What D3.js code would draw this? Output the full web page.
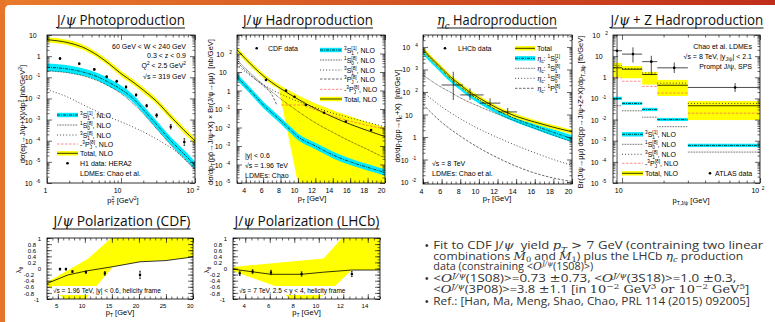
<!DOCTYPE html>
<html>
<head>
<meta charset="utf-8">
<script src="https://cdn.jsdelivr.net/npm/d3@7"></script>
<style>
  body { margin: 0; background: #fff; }
  svg { display: block; }
</style>
</head>
<body>
<svg id="chart" width="775" height="322"></svg>
<script>
// ---------------- data ----------------
// J/psi photoproduction, rows [pT^2, central, low, high]
const photoTot = [[1,6,4.6,7.8],[2,4.2,3.2,5.6],[3,2.7,2.0,3.6],[5,1.0,0.76,1.35],[7,0.42,0.32,0.57],[10,0.15,0.11,0.2],
  [15,0.055,0.041,0.075],[20,0.025,0.018,0.034],[30,0.0075,0.0055,0.0102],[50,0.0011,0.0008,0.0015],[70,3.3e-4,2.4e-4,4.5e-4],[100,1e-4,7e-5,1.4e-4]];
const photoCS = [[1,0.3,0.2,0.45],[2,0.24,0.16,0.36],[3,0.18,0.12,0.27],[5,0.1,0.066,0.15],[7,0.055,0.036,0.083],[10,0.027,0.018,0.041],
  [15,0.009,0.0059,0.0135],[20,0.003,0.002,0.0045],[30,6e-4,3.9e-4,9e-4],[50,8e-5,5.2e-5,1.2e-4],[70,2.5e-5,1.6e-5,3.8e-5],[100,7e-6,4.5e-6,1.05e-5]];
const photo1S0 = [[1,0.2],[2,0.16],[3,0.12],[5,0.065],[10,0.017],[20,0.0019],[30,3.8e-4],[50,5e-5],[100,4.5e-6]];
const photo3S1 = [[1,0.026],[1.86,0.012],[3.5,0.004],[7,0.0013],[14.5,4.5e-4],[33,1e-4],[60,2.5e-5],[100,4e-6]];
const photoH1 = [[1.5,0.77,0.7,0.85],[2.73,0.44,0.4,0.48],[4.36,0.236,0.215,0.26],[6.4,0.106,0.096,0.117],[8.75,0.065,0.059,0.072],
  [11.7,0.035,0.031,0.039],[16,0.0146,0.013,0.0164],[22.2,0.0045,0.0039,0.0052],[30.3,0.0016,0.0013,0.0019],[47,4.6e-4,3.6e-4,5.8e-4],[71.7,8.7e-5,6e-5,1.25e-4]];

// J/psi hadroproduction (CDF)
const hadroTot = [[3,160],[4,50],[5,17],[6,6.3],[7,2.7],[8,1.3],[9,0.65],[10,0.34],[12,0.105],[14,0.037],[16,0.015],[18,0.0068],[20,0.0032]];
const hadroTotHi = [[3,220],[4,68],[5,23],[6,8.6],[7,3.7],[8,1.85],[9,1.0],[10,0.55],[12,0.2],[14,0.085],[16,0.04],[18,0.019],[20,0.01]];
const hadroTotLo = [[3,115],[4,36],[5,12.5],[6,4.6],[7,2.0],[7.8,1.2],[10,1e-5],[20,1e-5]];
const hadroCS = [[3,5.5,3.7,8.2],[4,1.75,1.17,2.6],[5,0.56,0.37,0.84],[6,0.17,0.113,0.255],[7,0.063,0.042,0.095],[8,0.024,0.016,0.036],
  [9,0.0085,0.0057,0.0128],[10,0.0032,0.0021,0.0048],[12,0.001,6.7e-4,0.0015],[14,3.3e-4,2.2e-4,5e-4],[16,1.4e-4,9.3e-5,2.1e-4],[18,7e-5,4.7e-5,1.05e-4],[20,3.7e-5,2.5e-5,5.5e-5]];
const hadro1S0 = [[3,45],[4,15],[5,5.5],[6,2.1],[7,0.85],[8,0.36],[10,0.075],[12,0.018],[14,0.0055],[16,0.0018],[18,6.5e-4],[20,2.2e-4]];
const hadro3S1 = [[3,25],[4,10],[5,4.3],[6,2.1],[8,0.65],[10,0.26],[12,0.12],[14,0.06],[16,0.033],[18,0.019],[20,0.011]];
const hadro3PJ = [[3,35],[4,12],[5,4.5],[6,1.8],[7,0.6],[7.6,0.15]];
const hadro3PJneg = [[8.1,0.165],[10.7,0.165],[12,0.09],[14,0.042],[16,0.022],[18,0.013],[20,0.0085]];
const hadroCDF = [[6.33,3.7],[8.63,0.98],[9.6,0.46],[10.9,0.165],[13,0.063],[15.5,0.021],[18.4,0.0073]];

// eta_c hadroproduction (LHCb), rows [pT, central, low, high]
const etaTot = [[4,7900,6300,9900],[5,2900,2300,3600],[6,1150,920,1440],[7,450,360,560],[8,210,168,262],[9,100,80,125],[10,55,44,69],
  [12,19,15.2,23.8],[14,8.3,6.6,10.4],[16,4.6,3.7,5.75],[18,2.7,2.15,3.4],[20,1.7,1.36,2.1]];
const etaCS = [[4,6800,4800,9500],[5,2450,1700,3400],[6,960,670,1340],[7,380,265,530],[8,175,122,245],[9,84,59,118],[10,45,31,63],
  [12,15,10.5,21],[14,6.3,4.4,8.8],[16,3.1,2.2,4.3],[18,1.6,1.1,2.2],[20,0.85,0.6,1.2]];
const eta3S1 = [[4,570],[5,290],[6,160],[7,95],[8,55],[10,23],[12,10.5],[14,5],[16,2.4],[18,1.2],[20,0.6]];
const eta1S0 = [[4,100],[6,22],[8,6.5],[10,2.3],[12,0.95],[14,0.42],[16,0.2],[18,0.1],[20,0.055]];
const eta1P1 = [[4,28],[6,4.5],[8,1.1],[10,0.33],[12,0.12],[14,0.05],[16,0.025],[18,0.015],[20,0.0105]];
// [pT, value, pT low, pT high, value low, value high]
const etaLHCb = [[7.25,204,6.0,8.3,44,790],[9.05,74,8.0,10.5,44,145],[11.2,32,10.1,12.3,22,52],[13.1,13,12.1,14.1,9.5,19.5]];

// J/psi + Z (ATLAS), histogram bins
const zEdges = [8.5, 10, 14, 18, 30, 100];
const zTot   = [2.8, 2.4, 1.35, 0.42, 0.045];
const zTotLo = [1.0, 0.9, 0.45, 0.13, 0.0095];
const zTotHi = [4.8, 3.4, 1.8, 0.75, 0.075];
const zCS    = [0.1, 0.058, 0.03, 0.01, 6e-4];
const zCSLo  = [0.085, 0.049, 0.025, 0.0085, 5e-4];
const zCSHi  = [0.12, 0.069, 0.036, 0.012, 7.2e-4];
const z1S0   = [0.045, 0.026, 0.013, 0.0046, 2.9e-4];
const z3S1   = [3.5, 2.6, 1.6, 0.53, 0.058];
const z3PJ   = [0.93, 0.65, 0.37, 0.18, 0.02];
// [pT, value, pT low, pT high, value low, value high]
const zATLAS = [[9.2,18,8.8,10,1e-6,150],[12,12.5,10,14,5,26],[16.3,5.5,14,18,1.3,10.4],[23.9,2.8,18,30,1.6,5],[66,0.33,30,100,0.2,0.53]];

// polarization lambda_theta
const polCDFBand = [[3,-0.45],[10.5,0.31],[14.9,1],[30,1],[30,0.38],[25,0.27],[20.2,0.22],[15.2,0.06],[10.1,-1],[6.3,-1],[3,-0.56]];
const polCDFLine = [[3,-0.49],[6.9,-0.21],[10.3,-0.08],[15.2,0.06],[20.2,0.22],[25,0.26],[30,0.38]];
const polCDFData = [[5.4,-0.02,0.03],[6.5,-0.02,0.03],[7.7,-0.1,0.03],[10.2,-0.12,0.04],[13.7,-0.16,0.06],[20.2,-0.21,0.12]];
const polLHCbBand = [[3,0.05],[10.4,0.33],[11.9,1],[15,1],[15,-0.05],[12.7,-0.05],[10.8,-0.78],[9.8,-1],[7.6,-1],[6.6,-0.6],[3,-0.08]];
const polLHCbLine = [[3,-0.02],[4.8,-0.12],[6.1,-0.19],[8.6,-0.19],[10.4,-0.12],[12.7,-0.05],[15,-0.05]];
const polLHCbData = [[3.55,-0.16,0.07],[4.6,-0.1,0.06],[6.1,-0.13,0.07],[8.6,-0.18,0.07],[12.7,-0.18,0.08]];

// ---------------- setup ----------------
const W = 775, H = 322;
const YEL = '#ffff00', CYA = '#00eaff';
const SANS = '"Liberation Sans", Arial, sans-serif';
const SERIF = '"DejaVu Serif", "Liberation Serif", serif';
const TITLE = '"Open Sans", sans-serif';
const ST = {
  tot:    {c: '#000', w: 0.8, d: null},
  cs:     {c: '#000', w: 0.7, d: '3,1,1,1'},
  fine:   {c: '#000', w: 0.7, d: '0.8,0.8'},
  sparse: {c: '#000', w: 0.8, d: '0.9,2.2'},
  dash:   {c: '#000', w: 0.6, d: '2.5,1.5'},
  red:    {c: '#ff5a5a', w: 0.7, d: '2.5,1.5'}
};

const svg = d3.select('#chart');
const defs = svg.append('defs');
const grad = defs.append('linearGradient').attr('id', 'bar').attr('x1', 0).attr('x2', 1);
grad.append('stop').attr('offset', 0).attr('stop-color', '#e97a2b');
grad.append('stop').attr('offset', 1).attr('stop-color', '#bf2e1b');
svg.append('rect').attr('width', W).attr('height', H).attr('fill', 'url(#bar)');
svg.append('rect').attr('width', 5).attr('height', H).attr('fill', '#e6742b');
svg.append('path').attr('d', `M5,${H}V10Q5,5 10,5H${W}V${H}Z`).attr('fill', '#fff');

// text built from tokens: 'str', {t, i, f}, {sup, sub, i, f}
function rich(parent, x, y, toks, o = {}) {
  const size = o.size || 7;
  const g = parent.append('g');
  let cx = 0;
  const put = (s, dx, dy, fs, k) => {
    const e = g.append('text').attr('x', dx).attr('y', dy).attr('font-size', fs)
      .style('font-family', k.f || o.family || SANS).attr('fill', o.fill || '#000')
      .text(String(s).replace(/ /g, '\u00a0'));
    if (k.i) e.style('font-style', 'italic');
    return e.node().getComputedTextLength();
  };
  toks.forEach(k => {
    if (typeof k === 'string') k = {t: k};
    if (k.t != null) cx += put(k.t, cx, 0, size, k);
    else {
      let w = 0;
      if (k.sup != null) w = Math.max(w, put(k.sup, cx, -size * (o.supUp || 0.42), size * 0.68, k));
      if (k.sub != null) w = Math.max(w, put(k.sub, cx, size * (o.subDown || 0.3), size * 0.68, k));
      cx += w;
    }
  });
  const sx = o.width ? o.width / cx : 1;
  const wd = cx * sx;
  if (o.underline) g.append('line').attr('x1', 0).attr('x2', cx).attr('y1', 3).attr('y2', 3)
    .attr('stroke', o.fill || '#000').attr('stroke-width', 1);
  if (o.rotate) {
    g.attr('transform', `translate(${x},${y}) rotate(-90) translate(${-wd / 2},0) scale(${sx},1)`);
  } else {
    const left = o.anchor === 'end' ? x - wd : o.anchor === 'middle' ? x - wd / 2 : x;
    g.attr('transform', `translate(${left},${y}) scale(${sx},1)`);
  }
  return g;
}

let clipN = 0;
function panel(box, xs, ys) {
  const g = svg.append('g');
  const x = xs.range([box[0], box[1]]), y = ys.range([box[3], box[2]]);
  const id = 'clip' + (++clipN);
  defs.append('clipPath').attr('id', id).append('rect')
    .attr('x', box[0]).attr('y', box[2]).attr('width', box[1] - box[0]).attr('height', box[3] - box[2]);
  const plot = g.append('g').attr('clip-path', `url(#${id})`);
  return {g, plot, x, y};
}

function logTicks(lo, hi) {
  const major = [], minor = [];
  for (let e = Math.floor(Math.log10(lo)); e <= Math.ceil(Math.log10(hi)); e++) {
    const b = Math.pow(10, e);
    if (b >= lo * 0.999 && b <= hi * 1.001) major.push(b);
    for (let k = 2; k < 10; k++) if (k * b >= lo && k * b <= hi) minor.push(k * b);
  }
  return {major, minor};
}
const linTicks = (lo, hi, first, step, mstep) => ({major: d3.range(first, hi + 1e-9, step), minor: d3.range(lo, hi + 1e-9, mstep)});
const logLab = d => {
  const e = Math.round(Math.log10(d));
  return e === 0 ? ['1'] : e === 1 ? ['10'] : ['10', {sup: String(e)}];
};

function axes(p, xt, yt, xl, yl, o = {}) {
  const {g, x, y} = p;
  const [x0, x1] = x.range(), [yb, ytop] = y.range();
  const fs = o.size || 7;
  const draw = (axis, tr, vals, len) => {
    const a = g.append('g').attr('transform', tr).call(axis.tickValues(vals).tickSize(-len).tickFormat(() => ''));
    a.select('.domain').remove();
    a.selectAll('.tick text').remove();
    a.selectAll('.tick line').attr('stroke', '#000').attr('stroke-width', 0.6);
    return a;
  };
  draw(d3.axisBottom(x), `translate(0,${yb})`, xt.minor, 2.5);
  draw(d3.axisTop(x), `translate(0,${ytop})`, xt.minor, 2.5);
  draw(d3.axisTop(x), `translate(0,${ytop})`, xt.major, 5);
  const bx = draw(d3.axisBottom(x), `translate(0,${yb})`, xt.major, 5);
  draw(d3.axisLeft(y), `translate(${x0},0)`, yt.minor, 2.5);
  draw(d3.axisRight(y), `translate(${x1},0)`, yt.minor, 2.5);
  draw(d3.axisRight(y), `translate(${x1},0)`, yt.major, 5);
  const ly = draw(d3.axisLeft(y), `translate(${x0},0)`, yt.major, 5);
  bx.selectAll('.tick').each(function (d) {
    const t = xl(d); if (t) rich(d3.select(this), 0, fs + 2.5, t, {size: fs, anchor: 'middle'});
  });
  ly.selectAll('.tick').each(function (d) {
    const t = yl(d); if (t) rich(d3.select(this), -2.5, fs * 0.36, t, {size: fs, anchor: 'end'});
  });
  g.append('rect').attr('x', x0).attr('y', ytop).attr('width', x1 - x0).attr('height', yb - ytop)
    .attr('fill', 'none').attr('stroke', '#000').attr('stroke-width', 0.8);
}

function curve(p, data, st, cv = d3.curveMonotoneX) {
  p.plot.append('path').attr('d', d3.line().x(d => p.x(d[0])).y(d => p.y(d[1])).curve(cv)(data))
    .attr('fill', 'none').attr('stroke', st.c).attr('stroke-width', st.w).attr('stroke-dasharray', st.d);
}
function band(p, data, fill) {
  p.plot.append('path').attr('d', d3.area().x(d => p.x(d[0])).y0(d => p.y(d[2])).y1(d => p.y(d[3])).curve(d3.curveMonotoneX)(data))
    .attr('fill', fill);
}
function polygon(p, pts, fill) {
  p.plot.append('path').attr('d', d3.line().x(d => p.x(d[0])).y(d => p.y(d[1]))(pts) + 'Z').attr('fill', fill);
}
function ebar(p, x, ylo, yhi, cap) {
  p.plot.append('line').attr('x1', p.x(x)).attr('x2', p.x(x)).attr('y1', p.y(ylo)).attr('y2', p.y(yhi))
    .attr('stroke', '#000').attr('stroke-width', 0.7);
  if (cap) [ylo, yhi].forEach(v => p.plot.append('line').attr('x1', p.x(x) - cap).attr('x2', p.x(x) + cap)
    .attr('y1', p.y(v)).attr('y2', p.y(v)).attr('stroke', '#000').attr('stroke-width', 0.7));
}
function dot(g, cx, cy, r = 1.3) { g.append('circle').attr('cx', cx).attr('cy', cy).attr('r', r).attr('fill', '#000'); }

// legend: rows [type, tokens, y]
function legend(g, x0, x1, rows) {
  rows.forEach(([type, toks, yc]) => {
    if (type === 'yellow' || type === 'cyan') {
      g.append('rect').attr('x', x0).attr('y', yc - 2.2).attr('width', x1 - x0).attr('height', 4.4).attr('fill', type === 'yellow' ? YEL : CYA);
      const s = type === 'yellow' ? ST.tot : ST.cs;
      g.append('line').attr('x1', x0).attr('x2', x1).attr('y1', yc).attr('y2', yc).attr('stroke', s.c).attr('stroke-width', s.w).attr('stroke-dasharray', s.d);
    } else if (type === 'dot') {
      dot(g, (x0 + x1) / 2, yc);
    } else if (ST[type]) {
      const s = ST[type];
      g.append('line').attr('x1', x0).attr('x2', x1).attr('y1', yc).attr('y2', yc).attr('stroke', s.c).attr('stroke-width', s.w).attr('stroke-dasharray', s.d);
    }
    rich(g, x1 + 2, yc + 2.5, toks, {size: 7});
  });
}
const S = (pre, l, sub, sup, post) => [pre, {sup: l}, 'S', {sub, sup}, post];
const P = (pre, l, sub, sup, post) => [pre, {sup: l}, 'P', {sub, sup}, post];
const psi = {t: 'ψ', i: true, f: SERIF};

function title(x, y, w, toks) { rich(svg, x, y, toks, {size: 14, family: TITLE, anchor: 'middle', width: w, underline: true, fill: '#111'}); }

// ---------------- titles ----------------
title(121, 25, 128, ['J/', psi, ' Photoproduction']);
title(308, 25, 130, ['J/', psi, ' Hadroproduction']);
title(497, 25, 120, [{t: 'η', i: true, f: SERIF}, {sub: 'c', i: true, f: SERIF}, ' Hadroproduction']);
title(687, 25, 153, ['J/', psi, ' + Z Hadroproduction']);
title(122, 226, 137, ['J/', psi, ' Polarization (CDF)']);
title(307, 226, 145, ['J/', psi, ' Polarization (LHCb)']);

// ---------------- panel 1: photoproduction ----------------
{
  const p = panel([47, 195, 35, 183], d3.scaleLog().domain([1, 100]), d3.scaleLog().domain([1e-6, 10]));
  band(p, photoTot, YEL);
  band(p, photoCS, CYA);
  curve(p, photoTot, ST.tot);
  curve(p, photoCS, ST.cs);
  curve(p, photo1S0, ST.fine);
  curve(p, photo3S1, ST.sparse);
  photoH1.forEach(d => { ebar(p, d[0], d[2], d[3], 0.8); dot(p.plot, p.x(d[0]), p.y(d[1])); });
  axes(p, logTicks(1, 100), logTicks(1e-6, 10), logLab, logLab);
  const g = p.g;
  rich(g, 186, 49, ['60 GeV < W < 240 GeV'], {anchor: 'end'});
  rich(g, 186, 58, ['0.3 < z < 0.9'], {anchor: 'end'});
  rich(g, 186, 68, ['Q', {sup: '2'}, ' < 2.5 GeV', {sup: '2'}], {anchor: 'end'});
  rich(g, 186, 78.5, ['√s = 319 GeV'], {anchor: 'end'});
  legend(g, 57, 78, [
    ['cyan', S('', '3', '1', '[1]', ', NLO'), 115],
    ['fine', S('', '1', '0', '[8]', ', NLO'), 125],
    ['sparse', S('', '3', '1', '[8]', ', NLO'), 135],
    ['red', P('-', '3', 'J', '[8]', ', NLO'), 144],
    ['yellow', ['Total, NLO'], 153.3],
    ['dot', ['H1 data: HERA2'], 163.3],
    ['none', ['LDMEs: Chao et al.'], 173.3]
  ]);
  rich(g, 25, 114, ['dσ(ep→J/ψ+X)/dp', {sub: 'T', sup: '2'}, ' [nb/GeV', {sup: '2'}, ']'], {rotate: true, size: 7.5});
  rich(g, 123, 203, ['p', {sub: 'T', sup: '2'}, ' [GeV', {sup: '2'}, ']'], {anchor: 'middle', size: 7.5});
}

// ---------------- panel 2: J/psi hadroproduction ----------------
{
  const p = panel([237, 385, 35, 183], d3.scaleLinear().domain([3, 20]), d3.scaleLog().domain([1e-5, 1e3]));
  polygon(p, hadroTotHi.concat(hadroTotLo.slice().reverse()), YEL);
  band(p, hadroCS, CYA);
  curve(p, hadroTot, ST.tot);
  curve(p, hadroCS, ST.cs);
  curve(p, hadro1S0, ST.fine);
  curve(p, hadro3S1, ST.sparse);
  curve(p, hadro3PJ, ST.dash);
  curve(p, hadro3PJneg, ST.red, d3.curveLinear);
  hadroCDF.forEach(d => dot(p.plot, p.x(d[0]), p.y(d[1])));
  axes(p, linTicks(3, 20, 4, 2, 0.5), logTicks(1e-5, 1e3), d => [String(d)], d => d < 999 ? logLab(d) : null);
  const g = p.g;
  dot(g, 256.7, 48.3);
  rich(g, 268, 51, ['CDF data']);
  legend(g, 320, 342, [
    ['cyan', S('', '3', '1', '[1]', ', NLO'), 50],
    ['fine', S('', '1', '0', '[8]', ', NLO'), 60],
    ['sparse', S('', '3', '1', '[8]', ', NLO'), 70],
    ['dash', P('', '3', 'J', '[8]', ', NLO'), 79],
    ['red', P('-', '3', 'J', '[8]', ', NLO'), 89.3],
    ['yellow', ['Total, NLO'], 99]
  ]);
  rich(g, 245, 157.5, ['|y| < 0.6']);
  rich(g, 245, 167.5, ['√s = 1.96 TeV']);
  rich(g, 245, 177.5, ['LDMEs: Chao']);
  rich(g, 213, 112, ['dσ/dp', {sub: 'T'}, '(pp\u0304→J/ψ+X) × Br(J/ψ→μμ)  [nb/GeV]'], {rotate: true, size: 7.5});
  rich(g, 312, 201, ['p', {sub: 'T'}, ' [GeV]'], {anchor: 'middle', size: 7.5});
}

// ---------------- panel 3: eta_c hadroproduction ----------------
{
  const p = panel([423, 572, 35, 184], d3.scaleLinear().domain([4, 20]), d3.scaleLog().domain([0.00815, 34000]));
  band(p, etaCS, CYA);
  band(p, etaTot, YEL);
  curve(p, etaTot, ST.tot);
  curve(p, etaCS, ST.cs);
  curve(p, eta3S1, ST.fine);
  curve(p, eta1S0, ST.sparse);
  curve(p, eta1P1, ST.dash);
  etaLHCb.forEach(d => {
    ebar(p, d[0], d[4], d[5]);
    p.plot.append('line').attr('x1', p.x(d[2])).attr('x2', p.x(d[3])).attr('y1', p.y(d[1])).attr('y2', p.y(d[1]))
      .attr('stroke', '#000').attr('stroke-width', 0.7);
  });
  axes(p, linTicks(4, 20, 4, 2, 0.5), logTicks(0.00815, 34000), d => [String(d)], logLab);
  const g = p.g;
  dot(g, 445, 48.3);
  rich(g, 458, 50.8, ['LHCb data']);
  const ec = [{t: 'η', i: true, f: SERIF}, {sub: 'c'}, ': '];
  legend(g, 515, 535, [
    ['yellow', ['Total'], 48.3],
    ['cyan', ec.concat(S('', '1', '0', '[1]', '')), 58.3],
    ['fine', ec.concat(S('', '3', '1', '[8]', '')), 68.3],
    ['sparse', ec.concat(S('', '1', '0', '[8]', '')), 78.3],
    ['dash', ec.concat(P('', '1', '1', '[8]', '')), 88.3]
  ]);
  rich(g, 432, 165.5, ['√s = 8 TeV']);
  rich(g, 432, 175.5, ['LDMEs: Chao et al.']);
  rich(g, 400, 116, ['dσ/dp', {sub: 'T'}, '(pp→η', {sub: 'c'}, '+X)  [nb/GeV]'], {rotate: true, size: 7.5});
  rich(g, 497, 201, ['p', {sub: 'T'}, ' [GeV]'], {anchor: 'middle', size: 7.5});
}

// ---------------- panel 4: J/psi + Z ----------------
{
  const p = panel([613, 760, 35, 183], d3.scaleLog().domain([8.6, 100]), d3.scaleLog().domain([1e-5, 100]));
  const seg = (i, v, st) => p.plot.append('line').attr('x1', p.x(zEdges[i])).attr('x2', p.x(zEdges[i + 1]))
    .attr('y1', p.y(v)).attr('y2', p.y(v)).attr('stroke', st.c).attr('stroke-width', st.w).attr('stroke-dasharray', st.d);
  const box = (i, lo, hi, fill) => p.plot.append('rect').attr('x', p.x(zEdges[i])).attr('width', p.x(zEdges[i + 1]) - p.x(zEdges[i]))
    .attr('y', p.y(hi)).attr('height', p.y(lo) - p.y(hi)).attr('fill', fill);
  zTot.forEach((v, i) => {
    box(i, zTotLo[i], zTotHi[i], YEL);
    box(i, zCSLo[i], zCSHi[i], CYA);
    seg(i, z3S1[i], ST.sparse);
    seg(i, z3PJ[i], ST.red);
    seg(i, v, ST.tot);
    seg(i, zCS[i], ST.cs);
    seg(i, z1S0[i], ST.fine);
  });
  zATLAS.forEach(d => {
    ebar(p, d[0], d[4], d[5]);
    p.plot.append('line').attr('x1', p.x(d[2])).attr('x2', p.x(d[3])).attr('y1', p.y(d[1])).attr('y2', p.y(d[1]))
      .attr('stroke', '#000').attr('stroke-width', 0.7);
    dot(p.plot, p.x(d[0]), p.y(d[1]));
  });
  axes(p, logTicks(8.6, 100), logTicks(1e-5, 100), logLab, logLab);
  const g = p.g;
  rich(g, 752, 49, ['Chao et al. LDMEs'], {anchor: 'end'});
  rich(g, 752, 59, ['√s = 8 TeV, |y', {sub: 'J/ψ'}, '| < 2.1'], {anchor: 'end'});
  rich(g, 752, 68.5, ['Prompt J/ψ, SPS'], {anchor: 'end'});
  legend(g, 622, 643, [
    ['cyan', S('', '3', '1', '[1]', ', NLO'), 134.3],
    ['fine', S('', '1', '0', '[8]', ', NLO'), 144.3],
    ['sparse', S('', '3', '1', '[8]', ', NLO'), 154.3],
    ['red', P('-', '3', 'J', '[8]', ', NLO'), 163.3],
    ['yellow', ['Total, NLO'], 173.3]
  ]);
  dot(g, 710, 173.3);
  rich(g, 715, 175.8, ['ATLAS data']);
  rich(g, 583, 112, ['Br(J/ψ→μμ) dσ(pp→J/ψ+Z+X)/dp', {sub: 'T,J/ψ'}, ' [fb/GeV]'], {rotate: true, size: 7.5});
  rich(g, 691, 203, ['p', {sub: 'T,J/ψ'}, ' [GeV]'], {anchor: 'middle', size: 7.5});
}

// ---------------- polarization panels ----------------
function polPanel(box, xdom, xt, bandPts, line, data, label, ylabX) {
  const p = panel(box, d3.scaleLinear().domain(xdom), d3.scaleLinear().domain([-1, 1]));
  polygon(p, bandPts, YEL);
  curve(p, line, ST.tot, d3.curveLinear);
  data.forEach(d => {
    ebar(p, d[0], d[1] - d[2], d[1] + d[2], 0.8);
    p.plot.append('rect').attr('x', p.x(d[0]) - 1.1).attr('y', p.y(d[1]) - 1.1).attr('width', 2.2).attr('height', 2.2).attr('fill', '#000');
  });
  const t = rich(p.g, box[0] + 6, 292.5, label, {size: 6.5});
  const bb = t.node().getBBox();
  t.insert('rect', ':first-child').attr('x', bb.x - 1).attr('y', bb.y - 0.5).attr('width', bb.width + 2).attr('height', bb.height + 1).attr('fill', '#fff');
  const yt = {major: d3.range(-1, 1.0001, 0.2), minor: d3.range(-1, 1.0001, 0.1)};
  axes(p, xt, yt, d => [String(d)], d => [String(Math.round(d * 10) / 10)], {size: 6});
  rich(p.g, ylabX, 270, ['λ', {sub: 'θ'}], {rotate: true, size: 7.5});
  rich(p.g, (box[0] + box[1]) / 2, 315, ['p', {sub: 'T'}, ' [GeV]'], {anchor: 'middle', size: 7.5});
}
polPanel([47, 193, 238, 299], [3, 30], {major: d3.range(5, 31, 5), minor: d3.range(3, 31, 1)},
  polCDFBand, polCDFLine, polCDFData, ['√s = 1.96 TeV, |y| < 0.6, helicity frame'], 21);
polPanel([233, 380, 238, 299], [3, 15], {major: d3.range(4, 15, 2), minor: d3.range(3, 15.01, 0.5)},
  polLHCbBand, polLHCbLine, polLHCbData, ['√s = 7 TeV, 2.5 < y < 4, helicity frame'], 209);

// ---------------- bullet text ----------------
{
  const g = svg.append('g');
  const M = (t, k = {}) => Object.assign({t, f: SERIF}, k);
  const O = [M('O', {i: true}), {sup: 'J/ψ', i: true, f: SERIF}];
  const lines = [
    [249, true, 330, ['Fit to CDF J/', psi, '  yield ', M('p', {i: true}), {sub: 'T', i: true, f: SERIF}, M(' > 7'), ' GeV (contraining two linear']],
    [259.5, false, 310, ['combinations ', M('M', {i: true}), {sub: '0', f: SERIF}, ' and ', M('M', {i: true}), {sub: '1', f: SERIF}, ') plus the LHCb ', M('η', {i: true}), {sub: 'c', i: true, f: SERIF}, ' production']],
    [270, false, 160, ['data (constraining <', ...O, '(1S08)>)']],
    [282, true, 303, ['<', ...O, '(1S08)>=0.73 ', M('±'), '0.73, <', ...O, '(3S18)>=1.0 ', M('±'), '0.3,']],
    [293, false, 316, ['<', ...O, '(3P08)>=3.8 ', M('±'), '1.1 [in ', M('10'), {sup: '−2', f: SERIF}, M(' GeV'), {sup: '3', f: SERIF}, M(' or '), M('10'), {sup: '−2', f: SERIF}, M(' GeV'), {sup: '5', f: SERIF}, ']']],
    [305, true, 317, ['Ref.: [Han, Ma, Meng, Shao, Chao, PRL 114 (2015) 092005]']]
  ];
  lines.forEach(([y, bullet, w, toks]) => {
    if (bullet) rich(g, 425, y, ['•'], {size: 10, fill: '#333'});
    rich(g, 433.3, y, toks, {size: 11, width: w, fill: '#333', family: '"Open Sans", sans-serif', supUp: 0.36, subDown: 0.24});
  });
}
</script>
</body>
</html>
